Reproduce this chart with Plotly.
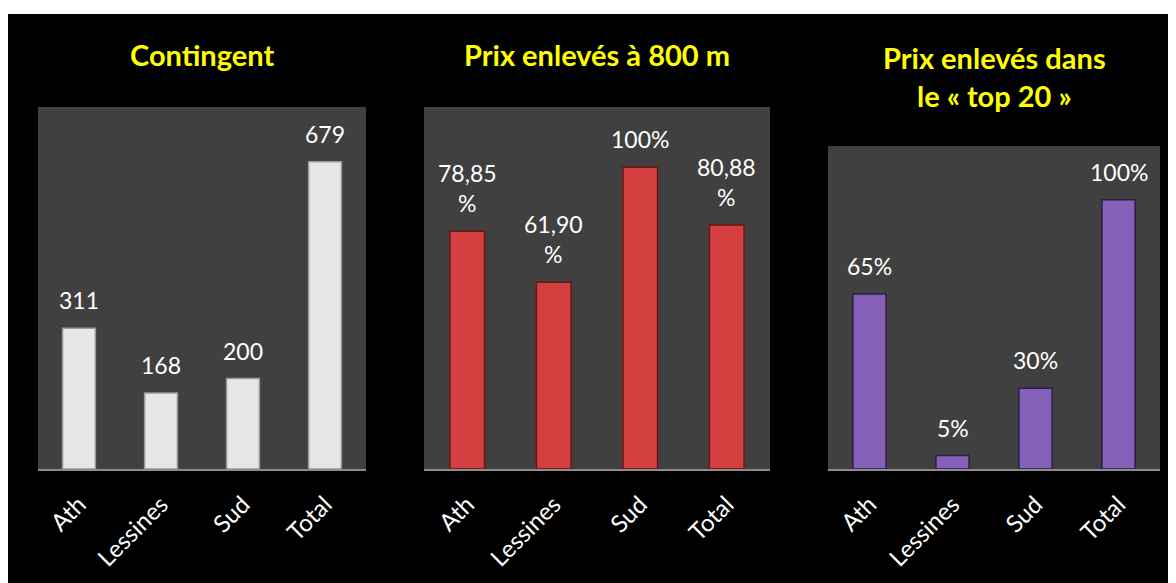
import plotly.graph_objects as go

categories = ["Ath", "Lessines", "Sud", "Total"]
contingent = [311, 168, 200, 679]
prix_800 = [78.85, 61.90, 100, 80.88]
prix_800_labels = ["78,85<br>%", "61,90<br>%", "100%", "80,88<br>%"]
top20 = [65, 5, 30, 100]
top20_labels = ["65%", "5%", "30%", "100%"]
contingent_labels = [str(v) for v in contingent]

titles = ["Contingent", "Prix enlevés à 800 m", "Prix enlevés dans<br>le « top 20 »"]

W, H = 1176, 583
FONT = "Lato"
OFF = 8  # page body margin

def px(x):
    return (x - OFF) / W

def py(y):
    return 1 - (y - OFF) / H

fig = go.Figure()

panels = [
    dict(vals=contingent, labels=contingent_labels, color="#e6e6e6", line="#9a9a9a",
         xd=[px(38), px(366)], yd=[py(469), py(107)], yr=[0, 800]),
    dict(vals=prix_800, labels=prix_800_labels, color="#d43f3f", line="#6e1414",
         xd=[px(424), px(770)], yd=[py(469), py(107)], yr=[0, 120]),
    dict(vals=top20, labels=top20_labels, color="#8460b8", line="#2e1c44",
         xd=[px(828), px(1160)], yd=[py(469), py(146)], yr=[0, 120]),
]

title_pos = [(px(202), py(55)), (px(597), py(55)), (px(994), py(76))]

# black background (white strip at top)
fig.add_shape(type="rect", xref="paper", yref="paper", x0=0, x1=1, y0=0, y1=py(14),
              fillcolor="black", line=dict(width=0), layer="below")

for i, p in enumerate(panels):
    n = "" if i == 0 else str(i + 1)
    xa, ya = "x" + n, "y" + n
    fig.add_trace(go.Bar(
        x=categories, y=p["vals"], xaxis=xa, yaxis=ya,
        marker=dict(color=p["color"], line=dict(color=p["line"], width=1.5)),
        width=0.4, showlegend=False, hoverinfo="skip",
    ))
    for c, v, t in zip(categories, p["vals"], p["labels"]):
        fig.add_annotation(x=c, y=v, xref=xa, yref=ya, text=t, showarrow=False,
                           yanchor="bottom", yshift=12,
                           font=dict(family=FONT, size=23, color="white"))
    fig.layout["xaxis" + n] = dict(
        domain=p["xd"], anchor=ya, showgrid=False, zeroline=False,
        showline=True, linecolor="#8c8c8c", linewidth=2,
        tickangle=-45, tickfont=dict(family=FONT, size=24, color="white"),
        ticks="", ticklabelstandoff=10, automargin=False, fixedrange=True,
    )
    fig.layout["yaxis" + n] = dict(
        domain=p["yd"], anchor=xa, range=p["yr"], visible=False,
        showgrid=False, zeroline=False, automargin=False, fixedrange=True,
    )
    fig.add_shape(type="rect", xref="paper", yref="paper",
                  x0=p["xd"][0], x1=p["xd"][1], y0=p["yd"][0], y1=p["yd"][1],
                  fillcolor="#404040", line=dict(width=0), layer="below")
    tx, ty = title_pos[i]
    fig.add_annotation(x=tx, y=ty, xref="paper", yref="paper", text="<b>" + titles[i] + "</b>",
                       showarrow=False, xanchor="center", yanchor="middle",
                       font=dict(family=FONT, size=29, color="#ffff00"))

fig.update_layout(
    width=W, height=H, margin=dict(l=0, r=0, t=0, b=0),
    paper_bgcolor="white", plot_bgcolor="rgba(0,0,0,0)",
    bargap=0.6,
)

fig.write_html("out.html", config={"displayModeBar": False})
